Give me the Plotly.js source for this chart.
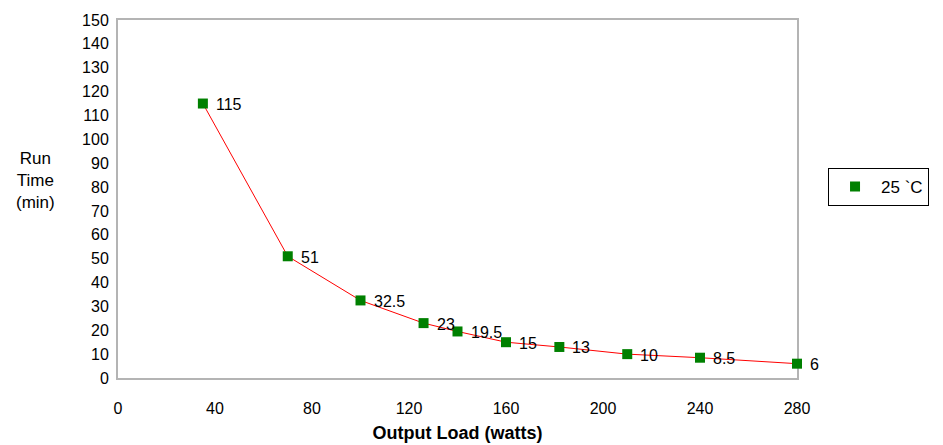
<!DOCTYPE html>
<html>
<head>
<meta charset="utf-8">
<script src="https://cdn.plot.ly/plotly-3.0.1.min.js"></script>
<style>html,body{margin:0;padding:0;background:#fff;}</style>
</head>
<body>
<div id="chart" style="width:943px;height:445px;"></div>
<script>
const loadWatts = [35, 70, 100, 126, 140, 160, 182, 210, 240, 280];
const runTimeMin = [115, 51, 32.5, 23, 19.5, 15, 13, 10, 8.5, 6];
const pointLabels = ["115", "51", "32.5", "23", "19.5", "15", "13", "10", "8.5", "6"];
const seriesName = "25 `C";
const xTicks = [0, 40, 80, 120, 160, 200, 240, 280];
const yTicks = [0, 10, 20, 30, 40, 50, 60, 70, 80, 90, 100, 110, 120, 130, 140, 150];

const font = "Arial, 'Liberation Sans', sans-serif";

const lineTrace = {
  x: loadWatts, y: runTimeMin, type: "scatter", mode: "lines",
  showlegend: false, cliponaxis: false,
  line: {color: "#ff0000", width: 1}
};
const markerTrace = {
  x: loadWatts, y: runTimeMin, type: "scatter", mode: "markers",
  name: seriesName, cliponaxis: false,
  marker: {symbol: "square", size: 10, color: "#008000"}
};

const labelAnnotations = loadWatts.map((x, i) => ({
  x: x, y: runTimeMin[i], xref: "x", yref: "y",
  text: pointLabels[i], showarrow: false,
  xanchor: "left", yanchor: "middle", xshift: 11, yshift: -1,
  font: {family: font, size: 16, color: "#000"}
}));

const layout = {
  width: 943, height: 445,
  margin: {l: 118, r: 146, t: 20, b: 67},
  paper_bgcolor: "#fff", plot_bgcolor: "#fff",
  font: {family: font, size: 16, color: "#000"},
  showlegend: true,
  legend: {
    x: 1.0457, xanchor: "left", y: 0.534, yanchor: "middle",
    bordercolor: "#000", borderwidth: 1, bgcolor: "#fff",
    font: {family: font, size: 17, color: "#000"},
    itemwidth: 42
  },
  xaxis: {
    range: [0, 280], tickvals: xTicks, ticktext: xTicks.map(String),
    showgrid: false, zeroline: false, showline: true, mirror: true,
    linecolor: "#b4b4b4", linewidth: 2, ticks: "", ticklabelstandoff: 15,
    layer: "below traces",
    tickfont: {family: font, size: 16, color: "#000"},
    title: {text: "<b>Output Load (watts)</b>", font: {family: font, size: 18, color: "#000"}, standoff: 10}
  },
  yaxis: {
    range: [0, 150], tickvals: yTicks, ticktext: yTicks.map(String),
    showgrid: false, zeroline: false, showline: true, mirror: true,
    linecolor: "#b4b4b4", linewidth: 2, ticks: "", ticklabelstandoff: 4,
    layer: "below traces",
    tickfont: {family: font, size: 16, color: "#000"}
  },
  annotations: [{
    text: "Run<br>Time<br>(min)", xref: "paper", yref: "paper",
    x: -0.122, y: 0.553, xanchor: "center", yanchor: "middle",
    showarrow: false, align: "center",
    font: {family: font, size: 17, color: "#000"}
  }].concat(labelAnnotations)
};

Plotly.newPlot("chart", [lineTrace, markerTrace], layout, {displayModeBar: false, staticPlot: true});
</script>
</body>
</html>
